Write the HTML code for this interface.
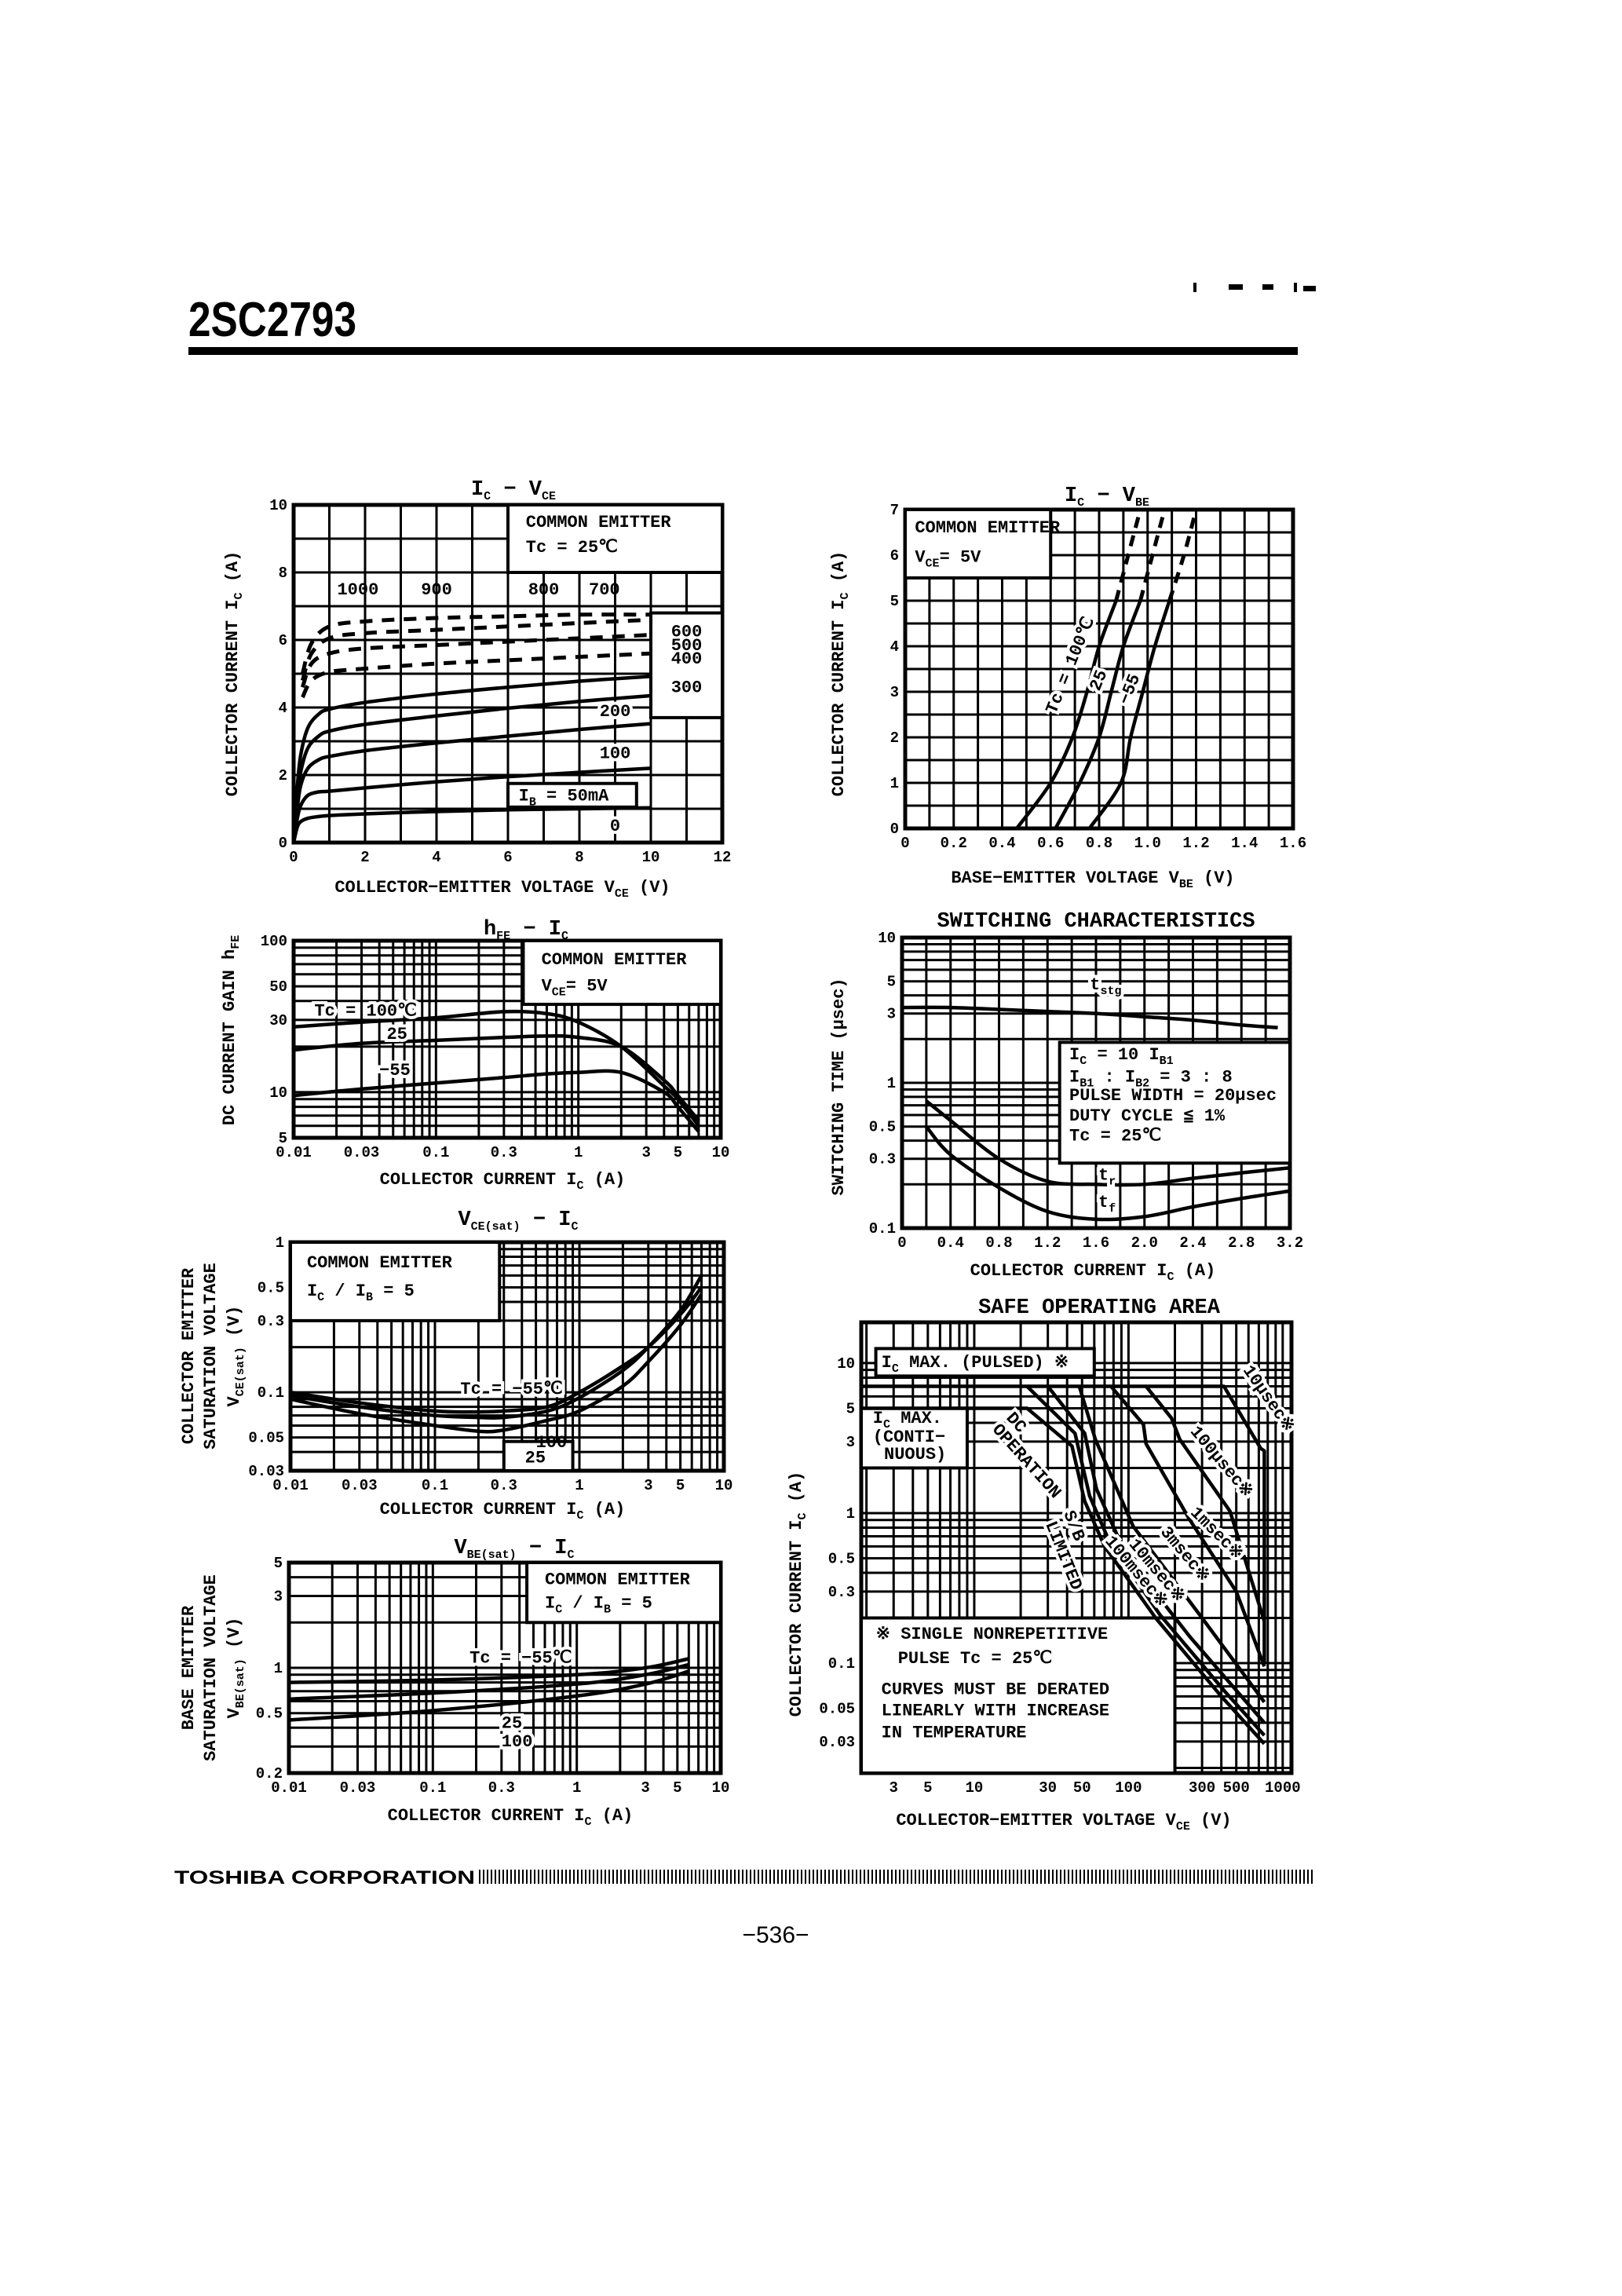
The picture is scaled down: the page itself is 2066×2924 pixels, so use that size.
<!DOCTYPE html>
<html><head><meta charset="utf-8">
<style>
html,body{margin:0;padding:0;background:#fff;}
svg{display:block;}
text{font-family:"Liberation Mono","DejaVu Sans Mono",monospace;font-weight:bold;fill:#000;}
.t{font-size:22px;}
.s{font-size:15px;}
.title{font-size:27px;}
.wb{paint-order:stroke;stroke:#fff;stroke-width:8px;}
</style></head>
<body>
<svg id="page" width="2066" height="2924" viewBox="0 0 2066 2924" xmlns="http://www.w3.org/2000/svg">
<rect x="0" y="0" width="2066" height="2924" fill="#fff"/>
<text x="240" y="428" style="font-family:'Liberation Sans Narrow','Liberation Sans',sans-serif;font-size:62px;font-weight:bold" textLength="214" lengthAdjust="spacingAndGlyphs">2SC2793</text>
<rect x="240" y="442" width="1413" height="10" fill="#000"/>
<g fill="#000">
<rect x="1520" y="360" width="4" height="12"/><rect x="1565" y="362" width="18" height="7"/><rect x="1608" y="362" width="14" height="7"/><rect x="1648" y="360" width="4" height="12"/><rect x="1660" y="364" width="16" height="7"/>
</g>
<g id="charts"></g>
<g id="labels">
<!-- IC-VCE -->
<text class="title" x="654" y="630" text-anchor="middle">I<tspan class="s" dy="6">C</tspan><tspan dy="-6"> − V</tspan><tspan class="s" dy="6">CE</tspan></text>
<text class="t" x="640" y="1136" text-anchor="middle">COLLECTOR−EMITTER VOLTAGE V<tspan class="s" dy="6">CE</tspan><tspan dy="-6"> (V)</tspan></text>
<text class="t" transform="translate(302,858) rotate(-90)" text-anchor="middle">COLLECTOR CURRENT  I<tspan class="s" dy="6">C</tspan><tspan dy="-6"> (A)</tspan></text>
<!-- IC-VBE -->
<text class="title" x="1410" y="638" text-anchor="middle">I<tspan class="s" dy="6">C</tspan><tspan dy="-6"> − V</tspan><tspan class="s" dy="6">BE</tspan></text>
<text class="t" x="1392" y="1124" text-anchor="middle">BASE−EMITTER VOLTAGE  V<tspan class="s" dy="6">BE</tspan><tspan dy="-6"> (V)</tspan></text>
<text class="t" transform="translate(1074,858) rotate(-90)" text-anchor="middle">COLLECTOR CURRENT  I<tspan class="s" dy="6">C</tspan><tspan dy="-6"> (A)</tspan></text>
<!-- hFE -->
<text class="title" x="670" y="1190" text-anchor="middle">h<tspan class="s" dy="6">FE</tspan><tspan dy="-6"> − I</tspan><tspan class="s" dy="6">C</tspan></text>
<text class="t" x="640" y="1508" text-anchor="middle">COLLECTOR CURRENT  I<tspan class="s" dy="6">C</tspan><tspan dy="-6"> (A)</tspan></text>
<text class="t" transform="translate(298,1312) rotate(-90)" text-anchor="middle">DC CURRENT GAIN  h<tspan class="s" dy="6">FE</tspan></text>
<!-- switching -->
<text class="title" x="1396" y="1180" text-anchor="middle">SWITCHING CHARACTERISTICS</text>
<text class="t" x="1392" y="1624" text-anchor="middle">COLLECTOR CURRENT  I<tspan class="s" dy="6">C</tspan><tspan dy="-6"> (A)</tspan></text>
<text class="t" transform="translate(1074,1384) rotate(-90)" text-anchor="middle">SWITCHING  TIME (μsec)</text>
<!-- VCEsat -->
<text class="title" x="660" y="1560" text-anchor="middle">V<tspan class="s" dy="6">CE(sat)</tspan><tspan dy="-6"> − I</tspan><tspan class="s" dy="6">C</tspan></text>
<text class="t" x="640" y="1928" text-anchor="middle">COLLECTOR CURRENT  I<tspan class="s" dy="6">C</tspan><tspan dy="-6"> (A)</tspan></text>
<text class="t" transform="translate(246,1727) rotate(-90)" text-anchor="middle">COLLECTOR EMITTER</text>
<text class="t" transform="translate(274,1727) rotate(-90)" text-anchor="middle">SATURATION VOLTAGE</text>
<text class="t" transform="translate(304,1727) rotate(-90)" text-anchor="middle">V<tspan class="s" dy="6">CE(sat)</tspan><tspan dy="-6"> (V)</tspan></text>
<!-- VBEsat -->
<text class="title" x="655" y="1978" text-anchor="middle">V<tspan class="s" dy="6">BE(sat)</tspan><tspan dy="-6"> − I</tspan><tspan class="s" dy="6">C</tspan></text>
<text class="t" x="650" y="2318" text-anchor="middle">COLLECTOR CURRENT  I<tspan class="s" dy="6">C</tspan><tspan dy="-6"> (A)</tspan></text>
<text class="t" transform="translate(246,2124) rotate(-90)" text-anchor="middle">BASE  EMITTER</text>
<text class="t" transform="translate(274,2124) rotate(-90)" text-anchor="middle">SATURATION VOLTAGE</text>
<text class="t" transform="translate(304,2124) rotate(-90)" text-anchor="middle">V<tspan class="s" dy="6">BE(sat)</tspan><tspan dy="-6"> (V)</tspan></text>
<!-- SOA -->
<text class="title" x="1400" y="1672" text-anchor="middle">SAFE OPERATING AREA</text>
<text class="t" x="1355" y="2324" text-anchor="middle">COLLECTOR−EMITTER VOLTAGE V<tspan class="s" dy="6">CE</tspan><tspan dy="-6"> (V)</tspan></text>
<text class="t" transform="translate(1020,2030) rotate(-90)" text-anchor="middle">COLLECTOR CURRENT  I<tspan class="s" dy="6">C</tspan><tspan dy="-6"> (A)</tspan></text>
<!-- footer -->
<text x="222" y="2399" style="font-family:'Liberation Sans',sans-serif;font-size:24px;font-weight:900" textLength="383" lengthAdjust="spacingAndGlyphs">TOSHIBA CORPORATION</text>
<rect x="607" y="2381" width="1068" height="18" fill="url(#bars)"/>
<text x="988" y="2474" text-anchor="middle" style="font-family:'Liberation Sans Narrow','Liberation Sans',sans-serif;font-size:30px;font-weight:normal">−536−</text>
</g>
<defs><pattern id="bars" width="5" height="18" patternUnits="userSpaceOnUse"><rect x="0" y="0" width="2" height="18" fill="#000"/></pattern></defs>
</svg>
<script>
// ---------- data arrays ----------
const icvceX = [0,0.1,0.2,0.4,0.7,1,2,4,6,8,10];
const ib50 = [0,0.45,0.62,0.72,0.77,0.8,0.85,0.92,0.97,1.0,1.03];
const ib100 = [0,0.7,1.1,1.4,1.5,1.52,1.62,1.8,1.95,2.08,2.2];
const ib200 = [0,1.0,1.7,2.2,2.45,2.55,2.72,2.95,3.15,3.35,3.52];
const ib300 = [0,1.3,2.1,2.8,3.15,3.3,3.5,3.75,3.98,4.18,4.35];
const ib400 = [0,1.6,2.6,3.4,3.8,3.95,4.15,4.4,4.6,4.78,4.92];
const icvceDashX = [0.25,0.5,1,2,4,6,8,10];
const ib500 = [4.3,4.8,5.05,5.15,5.3,5.4,5.5,5.6];
const ib600 = [4.6,5.3,5.6,5.75,5.85,5.95,6.05,6.15];
const ib700 = [4.8,5.6,6.05,6.2,6.3,6.4,6.5,6.6];
const ib800 = [5.0,5.9,6.4,6.55,6.65,6.7,6.75,6.75];
const icvceXTicks = [0,2,4,6,8,10,12];
const icvceYTicks = [0,2,4,6,8,10];

const vbeY = [0,1,2,3,4,5];
const vbe100 = [0.46,0.6,0.69,0.75,0.8,0.87];
const vbe25 = [0.62,0.72,0.8,0.85,0.9,0.97];
const vbeM55 = [0.76,0.89,0.93,0.98,1.03,1.09];
const vbeDashY = [5,6,7];
const vbe100d = [0.87,0.92,0.97];
const vbe25d = [0.97,1.02,1.07];
const vbeM55d = [1.09,1.15,1.2];
const icvbeXTicks = [0,0.2,0.4,0.6,0.8,1.0,1.2,1.4,1.6];
const icvbeXLabels = ['0','0.2','0.4','0.6','0.8','1.0','1.2','1.4','1.6'];
const icvbeYTicks = [0,1,2,3,4,5,6,7];

const hfeX = [0.01,0.03,0.1,0.3,0.6,1,2,4,5,7];
const hfe100 = [27,29,31,34,33,29,20,11,9,6];
const hfe25 = [19,21,22,23,23.5,23,20,12,9.5,6.5];
const hfeM55 = [9.5,10.5,11.5,12.5,13.2,13.5,13.5,10,8,5.5];
const logXTicks = [0.01,0.03,0.1,0.3,1,3,5,10];
const logXLabels = ['0.01','0.03','0.1','0.3','1','3','5','10'];
const hfeYTicks = [5,10,30,50,100];

const swX = [0,0.4,0.8,1.2,1.6,2.0,2.4,2.8,3.1];
const tstg = [3.3,3.3,3.2,3.1,3.0,2.85,2.7,2.5,2.4];
const trX = [0.2,0.4,0.8,1.2,1.6,2.0,2.4,2.8,3.2];
const tr = [0.75,0.55,0.3,0.21,0.2,0.2,0.22,0.24,0.26];
const tf = [0.5,0.32,0.19,0.13,0.115,0.12,0.14,0.16,0.18];
const swXTicks = [0,0.4,0.8,1.2,1.6,2.0,2.4,2.8,3.2];
const swXLabels = ['0','0.4','0.8','1.2','1.6','2.0','2.4','2.8','3.2'];
const swYTicks = [0.1,0.3,0.5,1,3,5,10];

const vceX = [0.01,0.03,0.1,0.2,0.3,0.6,1,2,3,5,7];
const vceM55 = [0.1,0.085,0.075,0.074,0.075,0.08,0.1,0.15,0.2,0.33,0.5];
const vce100 = [0.095,0.08,0.07,0.068,0.068,0.075,0.092,0.14,0.2,0.35,0.6];
const vce25 = [0.09,0.072,0.06,0.055,0.056,0.065,0.075,0.11,0.16,0.28,0.45];
const vceYTicks = [0.03,0.05,0.1,0.3,0.5,1];

const vbsX = [0.01,0.1,1,3,6];
const vbsM55 = [0.8,0.83,0.9,1.0,1.15];
const vbs25 = [0.62,0.68,0.78,0.9,1.05];
const vbs100 = [0.45,0.52,0.65,0.78,0.95];
const vbsYTicks = [0.2,0.5,1,3,5];

const soaDcV = [1.85,22,43,52,70,150,400,760];
const soaDcI = [5,5,2.8,1.2,0.6,0.2,0.06,0.029];
const soa100msV = [22,45,56,75,160,420,760];
const soa100msI = [7,3.4,1.3,0.65,0.21,0.065,0.033];
const soa10msV = [30,52,62,97,250,760];
const soa10msI = [7,3.4,1.45,0.52,0.15,0.04];
const soa3msV = [48,61,107,300,760];
const soa3msI = [7,3.1,0.82,0.2,0.055];
const soa1msV = [77,125,130,250,500,760];
const soa1msI = [7,3.9,2.9,0.9,0.3,0.095];
const soa100usV = [130,190,215,455,760];
const soa100usI = [7,4.3,3.1,1.03,0.19];
const soa10usV = [1.85,416,720,760,760];
const soa10usI = [7,7,2.7,2.6,0.1];
const soaXTicks = [3,5,10,30,50,100,300,500,1000];
const soaYTicks = [0.03,0.05,0.1,0.3,0.5,1,3,5,10];
const soaYLabels = ['0.03','0.05','0.1','0.3','0.5','1','3','5','10'];

// ---------- helpers ----------
const NS = 'http://www.w3.org/2000/svg';
const root = document.getElementById('charts');
function el(tag, attrs, parent){
  const e = document.createElementNS(NS, tag);
  for (const k in attrs) e.setAttribute(k, attrs[k]);
  (parent || root).appendChild(e);
  return e;
}
function scale(type, d0, d1, p0, p1){
  if (type === 'log'){ const a = Math.log10(d0), b = Math.log10(d1); return v => p0 + (Math.log10(v)-a)/(b-a)*(p1-p0); }
  return v => p0 + (v-d0)/(d1-d0)*(p1-p0);
}
function logLines(d0, d1){
  const out = [];
  for (let e = Math.floor(Math.log10(d0)); e <= Math.ceil(Math.log10(d1)); e++)
    for (let k = 1; k <= 9; k++){ const v = k*Math.pow(10,e); if (v > d0*1.0001 && v < d1*0.9999) out.push(v); }
  return out;
}
function linLines(d0, d1, step){
  const out = []; for (let v = d0+step; v < d1-step/2; v += step) out.push(+v.toFixed(6)); return out;
}
function chart(name, box, xt, xd, yt, yd, xg, yg){
  const g = el('g', {});
  
  
  const c = {g, box, sx: scale(xt, xd[0], xd[1], box.x0, box.x1), sy: scale(yt, yd[0], yd[1], box.y0, box.y1)};
  xg.forEach(v => {
    const l = el('line', {x1: c.sx(v), x2: c.sx(v), y1: box.y0, y2: box.y1, stroke: '#000', 'stroke-width': 3}, g);
    
    
  });
  yg.forEach(v => {
    const l = el('line', {y1: c.sy(v), y2: c.sy(v), x1: box.x0, x2: box.x1, stroke: '#000', 'stroke-width': 3}, g);
    
    
  });
  const f = el('rect', {x: box.x0, y: box.y1, width: box.x1-box.x0, height: box.y0-box.y1, fill: 'none', stroke: '#000', 'stroke-width': 5}, g);
  
  
  return c;
}
function whiteBox(c, x0, x1, y0, y1, name){
  const X0 = c.sx(x0), X1 = c.sx(x1), Y0 = c.sy(y0), Y1 = c.sy(y1);
  const r = el('rect', {x: Math.min(X0,X1), y: Math.min(Y0,Y1), width: Math.abs(X1-X0), height: Math.abs(Y1-Y0), fill: '#fff', stroke: '#000', 'stroke-width': 4}, c.g);
  
  
}
function txt(c, x, y, s, name, cls, anchor, rot){
  const X = c.sx(x), Y = c.sy(y);
  const t = el('text', {x: X, y: Y, class: cls || 't', 'text-anchor': anchor || 'start'}, c.g);
  if (rot) t.setAttribute('transform', 'rotate(' + rot + ' ' + X + ' ' + Y + ')');
  
  
  t.innerHTML = s;
  return t;
}
function smoothPath(pts){
  let d = 'M' + pts[0][0] + ' ' + pts[0][1];
  for (let i = 0; i < pts.length-1; i++){
    const p0 = pts[i-1] || pts[i], p1 = pts[i], p2 = pts[i+1], p3 = pts[i+2] || p2;
    const c1 = [p1[0]+(p2[0]-p0[0])/6, p1[1]+(p2[1]-p0[1])/6];
    const c2 = [p2[0]-(p3[0]-p1[0])/6, p2[1]-(p3[1]-p1[1])/6];
    d += ' C' + c1[0] + ' ' + c1[1] + ' ' + c2[0] + ' ' + c2[1] + ' ' + p2[0] + ' ' + p2[1];
  }
  return d;
}
function series(c, xs, ys, name, opts){
  opts = opts || {};
  const pts = xs.map((x,i) => [c.sx(x), c.sy(ys[i])]);
  const d = opts.straight ? 'M' + pts.map(p => p[0]+' '+p[1]).join(' L') : smoothPath(pts);
  const p = el('path', {d, fill: 'none', stroke: '#000', 'stroke-width': opts.w || 4.5, 'stroke-dasharray': opts.dash || 'none', 'stroke-linejoin': 'round'}, c.g);
  
  
}
function ticks(c, xv, xl, yv, yl){
  xv.forEach((v,i) => {
    const t = el('text', {x: c.sx(v), y: c.box.y0 + 24, class: 's', 'text-anchor': 'middle', style: 'font-size:19px'}, c.g);
    
    
    t.textContent = xl[i];
  });
  yv.forEach((v,i) => {
    const t = el('text', {x: c.box.x0 - 8, y: c.sy(v) + 6, class: 's', 'text-anchor': 'end', style: 'font-size:19px'}, c.g);
    
    
    t.textContent = yl[i];
  });
}
const str = a => a.map(String);

// ---------- IC - VCE ----------
(function(){
  const c = chart('ic-vce-chart', {x0:374,x1:920,y0:1073,y1:643}, 'lin',[0,12],'lin',[0,10], linLines(0,12,1), linLines(0,10,1));
  whiteBox(c, 6, 12, 8, 10, 'icvce-legend-box');
  whiteBox(c, 10, 12, 3.7, 6.8, 'icvce-label-box');
  whiteBox(c, 6, 9.6, 1.05, 1.75, 'icvce-ib-label-box');
  [ib50,ib100,ib200,ib300,ib400].forEach((s,i) => series(c, icvceX, s, 'curve-ib-' + [50,100,200,300,400][i]));
  [ib500,ib600,ib700,ib800].forEach((s,i) => series(c, icvceDashX, s, 'curve-ib-' + [500,600,700,800][i], {dash:'16 12', w:5}));
  txt(c, 6.5, 9.35, 'COMMON EMITTER', 'legend-common-emitter');
  txt(c, 6.5, 8.6, 'Tc = 25℃', 'legend-temperature');
  [['1000',1.8,7.35],['900',4.0,7.35],['800',7.0,7.35],['700',8.7,7.35]].forEach(a => txt(c, a[1], a[2], a[0], 'ib-label', 't', 'middle'));
  [['600',6.1],['500',5.7],['400',5.3],['300',4.45]].forEach(a => txt(c, 11.0, a[1], a[0], 'ib-label', 't', 'middle'));
  txt(c, 9.0, 3.75, '200', 'ib-label', 't wb', 'middle');
  txt(c, 9.0, 2.5, '100', 'ib-label', 't wb', 'middle');
  txt(c, 6.3, 1.25, 'I<tspan class="s" dy="6">B</tspan><tspan dy="-6"> = 50mA</tspan>', 'ib-label');
  txt(c, 9.0, 0.35, '0', 'ib-label', 't wb', 'middle');
  ticks(c, icvceXTicks, str(icvceXTicks), icvceYTicks, str(icvceYTicks));
})();

// ---------- IC - VBE ----------
(function(){
  const c = chart('ic-vbe-chart', {x0:1153,x1:1647,y0:1055,y1:649}, 'lin',[0,1.6],'lin',[0,7], linLines(0,1.6,0.1), linLines(0,7,0.5));
  whiteBox(c, 0, 0.6, 5.5, 7, 'icvbe-legend-box');
  [[vbe100,'curve-tc-100'],[vbe25,'curve-tc-25'],[vbeM55,'curve-tc-m55']].forEach(a => series(c, a[0], vbeY, a[1]));
  [[vbe100d,'curve-tc-100-ext'],[vbe25d,'curve-tc-25-ext'],[vbeM55d,'curve-tc-m55-ext']].forEach(a => series(c, a[0], vbeDashY, a[1], {dash:'14 10', w:5}));
  txt(c, 0.04, 6.5, 'COMMON EMITTER', 'legend-common-emitter');
  txt(c, 0.04, 5.85, 'V<tspan class="s" dy="6">CE</tspan><tspan dy="-6">= 5V</tspan>', 'legend-vce');
  txt(c, 0.62, 2.5, 'Tc = 100℃', 'label-tc-100', 't wb', 'start', -68);
  txt(c, 0.80, 3.0, '25', 'label-25', 't wb', 'start', -68);
  txt(c, 0.92, 2.7, '−55', 'label-m55', 't wb', 'start', -68);
  ticks(c, icvbeXTicks, icvbeXLabels, icvbeYTicks, str(icvbeYTicks));
})();

// ---------- hFE - IC ----------
(function(){
  const c = chart('hfe-ic-chart', {x0:374,x1:918,y0:1449,y1:1198}, 'log',[0.01,10],'log',[5,100], logLines(0.01,10), logLines(5,100));
  whiteBox(c, 0.41, 10, 38, 100, 'hfe-legend-box');
  series(c, hfeX, hfe100, 'curve-tc-100');
  series(c, hfeX, hfe25, 'curve-tc-25');
  series(c, hfeX, hfeM55, 'curve-tc-m55');
  txt(c, 0.55, 70, 'COMMON EMITTER', 'legend-common-emitter');
  txt(c, 0.55, 47, 'V<tspan class="s" dy="6">CE</tspan><tspan dy="-6">= 5V</tspan>', 'legend-vce');
  txt(c, 0.014, 32, 'Tc = 100℃', 'label-tc-100', 't wb');
  txt(c, 0.045, 22.5, '25', 'label-25', 't wb');
  txt(c, 0.04, 13, '−55', 'label-m55', 't wb');
  ticks(c, logXTicks, logXLabels, hfeYTicks, str(hfeYTicks));
})();

// ---------- Switching ----------
(function(){
  const c = chart('switching-chart', {x0:1149,x1:1643,y0:1564,y1:1194}, 'lin',[0,3.2],'log',[0.1,10], linLines(0,3.2,0.2), logLines(0.1,10));
  whiteBox(c, 1.3, 3.2, 0.28, 1.9, 'switching-conditions-box');
  series(c, swX, tstg, 'curve-tstg');
  series(c, trX, tr, 'curve-tr');
  series(c, trX, tf, 'curve-tf');
  txt(c, 1.38, 1.45, 'I<tspan class="s" dy="6">C</tspan><tspan dy="-6"> = 10 I</tspan><tspan class="s" dy="6">B1</tspan>', 'cond-ic-ib');
  txt(c, 1.38, 1.02, 'I<tspan class="s" dy="6">B1</tspan><tspan dy="-6"> : I</tspan><tspan class="s" dy="6">B2</tspan><tspan dy="-6"> = 3 : 8</tspan>', 'cond-ib-ratio');
  txt(c, 1.38, 0.76, 'PULSE WIDTH = 20μsec', 'cond-pulse');
  txt(c, 1.38, 0.55, 'DUTY CYCLE ≦ 1%', 'cond-duty');
  txt(c, 1.38, 0.40, 'Tc = 25℃', 'cond-temp');
  txt(c, 1.55, 4.4, 't<tspan class="s" dy="6">stg</tspan>', 'label-tstg', 't wb');
  txt(c, 1.62, 0.215, 't<tspan class="s" dy="6">r</tspan>', 'label-tr', 't wb');
  txt(c, 1.62, 0.14, 't<tspan class="s" dy="6">f</tspan>', 'label-tf', 't wb');
  ticks(c, swXTicks, swXLabels, swYTicks, str(swYTicks));
})();

// ---------- VCE(sat) ----------
(function(){
  const c = chart('vcesat-chart', {x0:370,x1:922,y0:1873,y1:1582}, 'log',[0.01,10],'log',[0.03,1], logLines(0.01,10), logLines(0.03,1));
  whiteBox(c, 0.01, 0.28, 0.3, 1, 'vcesat-legend-box');
  whiteBox(c, 0.3, 0.9, 0.03, 0.047, 'vcesat-label-box');
  series(c, vceX, vceM55, 'curve-tc-m55');
  series(c, vceX, vce100, 'curve-tc-100');
  series(c, vceX, vce25, 'curve-tc-25');
  txt(c, 0.013, 0.68, 'COMMON EMITTER', 'legend-common-emitter');
  txt(c, 0.013, 0.44, 'I<tspan class="s" dy="6">C</tspan><tspan dy="-6"> / I</tspan><tspan class="s" dy="6">B</tspan><tspan dy="-6"> = 5</tspan>', 'legend-ratio');
  txt(c, 0.15, 0.098, 'Tc = −55℃', 'label-tc-m55', 't wb');
  txt(c, 0.5, 0.043, '100', 'label-100', 't');
  txt(c, 0.42, 0.034, '25', 'label-25', 't');
  ticks(c, logXTicks, logXLabels, vceYTicks, str(vceYTicks));
})();

// ---------- VBE(sat) ----------
(function(){
  const c = chart('vbesat-chart', {x0:368,x1:918,y0:2258,y1:1990}, 'log',[0.01,10],'log',[0.2,5], logLines(0.01,10), logLines(0.2,5));
  whiteBox(c, 0.45, 10, 2, 5, 'vbesat-legend-box');
  series(c, vbsX, vbsM55, 'curve-tc-m55');
  series(c, vbsX, vbs25, 'curve-tc-25');
  series(c, vbsX, vbs100, 'curve-tc-100');
  txt(c, 0.6, 3.6, 'COMMON EMITTER', 'legend-common-emitter');
  txt(c, 0.6, 2.5, 'I<tspan class="s" dy="6">C</tspan><tspan dy="-6"> / I</tspan><tspan class="s" dy="6">B</tspan><tspan dy="-6"> = 5</tspan>', 'legend-ratio');
  txt(c, 0.18, 1.08, 'Tc = −55℃', 'label-tc-m55', 't wb');
  txt(c, 0.3, 0.4, '25', 'label-25', 't wb');
  txt(c, 0.3, 0.3, '100', 'label-100', 't wb');
  ticks(c, logXTicks, logXLabels, vbsYTicks, str(vbsYTicks));
})();

// ---------- SOA ----------
(function(){
  const c = chart('soa-chart', {x0:1097,x1:1645,y0:2258,y1:1684}, 'log',[1.85,1140],'log',[0.0185,18.7], logLines(1.85,1140), logLines(0.0185,18.7));
  whiteBox(c, 1.85, 200, 0.0185, 0.2, 'soa-note-box');
  whiteBox(c, 1.85, 9, 2.0, 5.0, 'soa-icmax-cont-box');
  whiteBox(c, 2.3, 60, 8.2, 12.5, 'soa-icmax-pulsed-box');
  series(c, soaDcV, soaDcI, 'curve-dc', {straight:true});
  series(c, soa100msV, soa100msI, 'curve-100ms', {straight:true});
  series(c, soa10msV, soa10msI, 'curve-10ms', {straight:true});
  series(c, soa3msV, soa3msI, 'curve-3ms', {straight:true});
  series(c, soa1msV, soa1msI, 'curve-1ms', {straight:true});
  series(c, soa100usV, soa100usI, 'curve-100us', {straight:true});
  series(c, soa10usV, soa10usI, 'curve-10us', {straight:true});
  txt(c, 2.5, 9.4, 'I<tspan class="s" dy="6">C</tspan><tspan dy="-6"> MAX. (PULSED) ※</tspan>', 'label-icmax-pulsed');
  txt(c, 2.2, 4.0, 'I<tspan class="s" dy="6">C</tspan><tspan dy="-6"> MAX.</tspan>', 'label-icmax-cont');
  txt(c, 2.2, 3.0, '(CONTI−', 'label-icmax-cont-2');
  txt(c, 2.6, 2.3, 'NUOUS)', 'label-icmax-cont-3');
  txt(c, 2.3, 0.145, '※ SINGLE NONREPETITIVE', 'note-single');
  txt(c, 3.2, 0.1, 'PULSE  Tc = 25℃', 'note-pulse');
  txt(c, 2.5, 0.062, 'CURVES MUST BE DERATED', 'note-derate-1');
  txt(c, 2.5, 0.045, 'LINEARLY WITH INCREASE', 'note-derate-2');
  txt(c, 2.5, 0.032, 'IN TEMPERATURE', 'note-derate-3');
  txt(c, 16, 4.3, 'DC', 'label-dc', 't wb', 'start', 48);
  txt(c, 13, 3.6, 'OPERATION', 'label-operation', 't wb', 'start', 48);
  txt(c, 38, 1.0, 'S/B', 'label-sb', 't wb', 'start', 68);
  txt(c, 29, 0.85, 'LIMITED', 'label-limited', 't wb', 'start', 68);
  txt(c, 70, 0.65, '100msec※', 'label-100ms', 't wb', 'start', 50);
  txt(c, 100, 0.62, '10msec※', 'label-10ms', 't wb', 'start', 50);
  txt(c, 160, 0.75, '3msec※', 'label-3ms', 't wb', 'start', 50);
  txt(c, 250, 1.0, '1msec※', 'label-1ms', 't wb', 'start', 45);
  txt(c, 250, 3.5, '100μsec※', 'label-100us', 't wb', 'start', 50);
  txt(c, 550, 9.0, '10μsec※', 'label-10us', 't wb', 'start', 55);
  ticks(c, soaXTicks, str(soaXTicks), soaYTicks, soaYLabels);
})();
</script>
</body></html>
